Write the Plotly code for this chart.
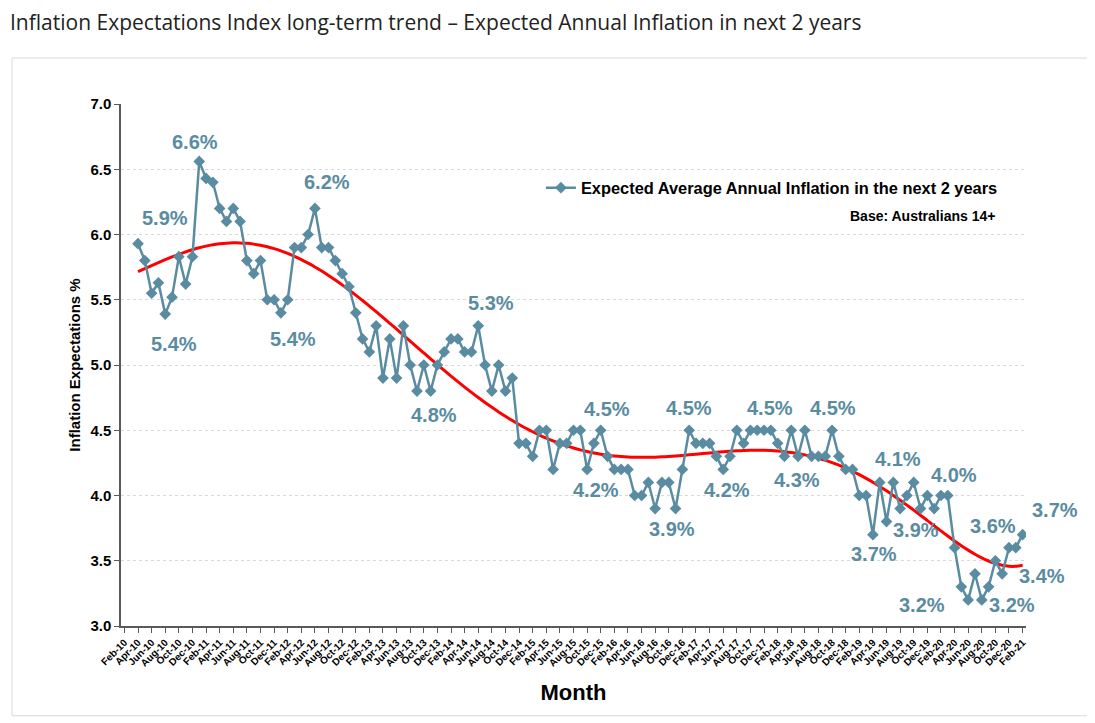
import numpy as np
import pandas as pd
import plotly.graph_objects as go

# ---- data ----
months = list(pd.date_range("2010-02-01", periods=133, freq="MS").strftime("%b-%y"))
first_month = "Apr-10"
values = [
    5.93, 5.8, 5.55, 5.63, 5.39, 5.52, 5.83, 5.62, 5.83, 6.56,
    6.43, 6.40, 6.2, 6.1, 6.2, 6.1, 5.8, 5.7, 5.8, 5.5,
    5.5, 5.4, 5.5, 5.9, 5.9, 6.0, 6.2, 5.9, 5.9, 5.8,
    5.7, 5.6, 5.4, 5.2, 5.1, 5.3, 4.9, 5.2, 4.9, 5.3,
    5.0, 4.8, 5.0, 4.8, 5.0, 5.1, 5.2, 5.2, 5.1, 5.1,
    5.3, 5.0, 4.8, 5.0, 4.8, 4.9, 4.4, 4.4, 4.3, 4.5,
    4.5, 4.2, 4.4, 4.4, 4.5, 4.5, 4.2, 4.4, 4.5, 4.3,
    4.2, 4.2, 4.2, 4.0, 4.0, 4.1, 3.9, 4.1, 4.1, 3.9,
    4.2, 4.5, 4.4, 4.4, 4.4, 4.3, 4.2, 4.3, 4.5, 4.4,
    4.5, 4.5, 4.5, 4.5, 4.4, 4.3, 4.5, 4.3, 4.5, 4.3,
    4.3, 4.3, 4.5, 4.3, 4.2, 4.2, 4.0, 4.0, 3.7, 4.1,
    3.8, 4.1, 3.9, 4.0, 4.1, 3.9, 4.0, 3.9, 4.0, 4.0,
    3.6, 3.3, 3.2, 3.4, 3.2, 3.3, 3.5, 3.4, 3.6, 3.6,
    3.7,
]
start = months.index(first_month)
categories = months[start:start + len(values)]

# data labels: (point number 1-based, text)
label_points = [
    (10, "6.6%"), (1, "5.9%"), (5, "5.4%"), (27, "6.2%"), (22, "5.4%"),
    (51, "5.3%"), (44, "4.8%"), (69, "4.5%"), (67, "4.2%"), (82, "4.5%"),
    (80, "3.9%"), (87, "4.2%"), (93, "4.5%"), (103, "4.5%"), (100, "4.3%"),
    (109, "3.7%"), (112, "4.1%"), (116, "3.9%"), (120, "4.0%"), (123, "3.2%"),
    (125, "3.2%"), (129, "3.6%"), (131, "3.7%"), (128, "3.4%"),
]
# pixel offsets of each label from its point (dx, dy up)
label_offsets = [
    (-4, 19), (27, 26), (9, -30), (12, 26), (12, -26),
    (13, 23), (3, -24), (6, 21), (9, -21), (0, 22),
    (-4, -20), (4, -21), (6, 22), (1, 22), (-15, -24),
    (1, -19), (5, 23), (-5, -21), (6, 21), (-46, -5),
    (30, -5), (-16, 22), (32, 25), (40, -2),
]

BLUE = "#5A8CA1"
FONT = "Liberation Sans, Arial, sans-serif"

# polynomial trend (order 6) fitted to the series
xi = np.array([months.index(c) for c in categories], dtype=float)
xn = (xi - xi.mean()) / xi.std()
coef = np.polyfit(xn, np.array(values), 6)
trend = np.polyval(coef, xn)

fig = go.Figure()
fig.add_trace(go.Scatter(
    x=categories, y=list(trend), mode="lines",
    line=dict(color="#FF0000", width=3, shape="spline"),
    showlegend=False, hoverinfo="skip"))
fig.add_trace(go.Scatter(
    x=categories, y=values, mode="lines+markers",
    name="Expected Average Annual Inflation in the next 2 years",
    line=dict(color=BLUE, width=2.5),
    marker=dict(symbol="diamond", size=9, color=BLUE)))

for (pt, txt), (dx, dy) in zip(label_points, label_offsets):
    fig.add_annotation(x=categories[pt - 1], y=values[pt - 1], text=txt,
                       showarrow=False, xshift=dx, yshift=dy,
                       font=dict(family=FONT, size=20, color=BLUE, weight="bold"))

fig.add_annotation(xref="paper", yref="paper", x=0.968, y=0.785,
                   xanchor="right", yanchor="middle", showarrow=False,
                   text="Base: Australians 14+",
                   font=dict(family=FONT, size=14, color="#000000", weight="bold"))

# outer chart frame
fig.add_shape(type="rect", xref="paper", yref="paper",
              x0=-0.1204, x1=1.074, y0=-0.172, y1=1.088,
              line=dict(color="#D9D9D9", width=1), fillcolor="rgba(0,0,0,0)", layer="below")

fig.update_layout(
    width=1095, height=723,
    margin=dict(l=113, r=77, t=96, b=105),
    paper_bgcolor="white", plot_bgcolor="white",
    title=dict(text="Inflation Expectations Index long-term trend \u2013 Expected Annual Inflation in next 2 years",
               x=2 / 1095, xanchor="left", xref="container",
               y=1 - 15 / 723, yanchor="middle", yref="container",
               font=dict(family="Open Sans", size=21, color="#222222")),
    legend=dict(x=0.464, y=0.839, xanchor="left", yanchor="middle",
                bgcolor="rgba(0,0,0,0)",
                font=dict(family=FONT, size=16.4, color="#000000", weight="bold")),
    showlegend=True,
)
fig.update_xaxes(type="category", categoryorder="array", categoryarray=months,
                 range=[-0.5, len(months) - 0.5],
                 tickmode="array", tickvals=months[::2], ticktext=months[::2],
                 tickangle=-45, ticks="outside", ticklen=5, tickcolor="#595959",
                 showline=True, linecolor="#595959", linewidth=1.5,
                 showgrid=False, zeroline=False,
                 tickfont=dict(family=FONT, size=10, color="#000000", weight="bold"),
                 title=dict(text="Month", standoff=17,
                            font=dict(family=FONT, size=22, color="#000000", weight="bold")))
fig.update_yaxes(range=[3, 7], dtick=0.5, tickformat=".1f",
                 ticks="outside", ticklen=5, tickcolor="#595959",
                 showline=True, linecolor="#595959", linewidth=1.5,
                 showgrid=True, gridcolor="#D9D9D9", griddash="dot", gridwidth=1,
                 zeroline=False,
                 tickfont=dict(family=FONT, size=15, color="#000000", weight="bold"),
                 title=dict(text="Inflation Expectations %", standoff=6,
                            font=dict(family=FONT, size=15, color="#000000", weight="bold")))

fig.write_html("out.html")
